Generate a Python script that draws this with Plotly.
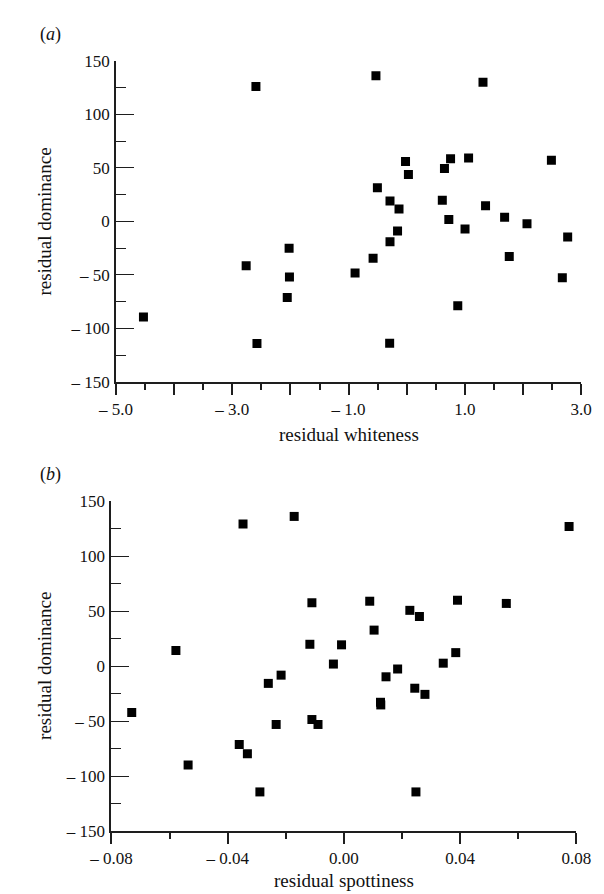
import plotly.graph_objects as go

W, H = 604, 894

# Panel (a): residual whiteness vs residual dominance
whiteness = [-2.594, -0.529, 1.313, -0.02, 0.755, 1.065, 2.49, 0.65, 0.03, -0.504,
             -0.287, -0.132, 0.613, 1.357, 0.725, 1.685, 2.07, -0.157, 1.004, 2.77,
             -0.287, -2.023, -0.578, 1.765, -2.762, -0.888, -2.017, 2.678, -2.055,
             0.879, -4.529, -2.576, -0.293]
dominance_a = [126.1, 136.2, 130.2, 56.1, 58.6, 59.2, 57.3, 49.4, 43.9, 31.4,
               19.2, 11.5, 19.7, 14.6, 1.7, 3.9, -2.3, -9.0, -7.2, -14.5,
               -19.1, -25.2, -34.4, -32.8, -41.4, -48.2, -52.1, -52.7, -71.1,
               -79.0, -89.4, -114.2, -113.9]

# Panel (b): residual spottiness vs residual dominance
spottiness = [-0.0347, -0.0171, 0.0775, -0.0110, 0.0089, 0.0391, 0.0559, 0.0227,
              0.0260, 0.0104, -0.0117, -0.0008, -0.0578, 0.0385, -0.0036, 0.0342,
              0.0185, -0.0216, 0.0145, -0.0260, 0.0244, 0.0279, 0.0126, 0.0127,
              -0.0730, -0.0110, -0.0089, -0.0233, -0.0360, -0.0332, -0.0536,
              -0.0289, 0.0248]
dominance_b = [129.6, 136.4, 127.2, 57.8, 59.2, 60.1, 57.2, 50.9, 45.3, 32.9,
               20.0, 19.5, 14.4, 12.4, 2.0, 2.8, -2.5, -8.1, -9.6, -15.6,
               -20.0, -25.6, -32.8, -35.2, -42.0, -48.5, -53.0, -53.0, -71.3,
               -79.7, -90.0, -114.4, -114.4]

# Tick configuration
y_tickvals = [-150, -100, -50, 0, 50, 100, 150]
y_ticktext = ["\u2013 150", "\u2013 100", "\u2013 50", "0", "50", "100", "150"]
y_minor = [-125, -75, -25, 25, 75, 125]

xa_tickvals = [-5, -4, -3, -2, -1, 0, 1, 2, 3]
xa_ticktext = ["\u2013 5.0", "", "\u2013 3.0", "", "\u2013 1.0", "", "1.0", "", "3.0"]
xa_minor = [-4.5, -3.5, -2.5, -1.5, -0.5, 0.5, 1.5, 2.5]

xb_tickvals = [-0.08, -0.04, 0.0, 0.04, 0.08]
xb_ticktext = ["\u2013 0.08", "\u2013 0.04", "0.00", "0.04", "0.08"]
xb_minor = [-0.06, -0.02, 0.02, 0.06]

FONT = "Liberation Serif, Times New Roman, serif"
AX = "#1e1e1e"


def px_x(p):
    return p / W


def px_y(p):
    return 1 - p / H


fig = go.Figure()
fig.add_trace(go.Scatter(x=whiteness, y=dominance_a, mode="markers",
                         marker=dict(symbol="square", size=9, color="black"),
                         xaxis="x", yaxis="y", showlegend=False))
fig.add_trace(go.Scatter(x=spottiness, y=dominance_b, mode="markers",
                         marker=dict(symbol="square", size=9, color="black"),
                         xaxis="x2", yaxis="y2", showlegend=False))

common_x = dict(showgrid=False, zeroline=False, showline=True, linecolor=AX, linewidth=1.5,
                ticks="outside", ticklen=11, tickwidth=1.5, tickcolor=AX,
                tickfont=dict(family=FONT, size=17, color="#111"), tickmode="array")
common_y = dict(showgrid=False, zeroline=False, showline=True, linecolor=AX, linewidth=2,
                ticks="inside", ticklen=18, tickwidth=1.3, tickcolor=AX,
                tickfont=dict(family=FONT, size=17, color="#111"), tickmode="array",
                tickvals=y_tickvals, ticktext=y_ticktext, range=[-150, 150],
                ticklabelstandoff=1,
                minor=dict(tickmode="array", tickvals=y_minor, ticks="inside",
                           ticklen=10, tickwidth=1.3, tickcolor=AX))

fig.update_layout(
    width=W, height=H, plot_bgcolor="white", paper_bgcolor="white",
    margin=dict(l=0, r=0, t=0, b=0),
    xaxis=dict(common_x, domain=[px_x(91.7), px_x(587)], range=[-5, 3], anchor="y",
               tickvals=xa_tickvals, ticktext=xa_ticktext,
               minor=dict(tickmode="array", tickvals=xa_minor, ticks="outside",
                          ticklen=6, tickwidth=1.5, tickcolor=AX)),
    yaxis=dict(common_y, domain=[px_y(372.7), px_y(45)], anchor="x"),
    xaxis2=dict(common_x, domain=[px_x(86.7), px_x(582)], range=[-0.08, 0.08], anchor="y2",
                tickvals=xb_tickvals, ticktext=xb_ticktext,
                minor=dict(tickmode="array", tickvals=xb_minor, ticks="outside",
                           ticklen=6, tickwidth=1.5, tickcolor=AX)),
    yaxis2=dict(common_y, domain=[px_y(831.7), px_y(495)], anchor="x2"),
)

ann_font = dict(family=FONT, size=19, color="#111")
fig.add_annotation(text="residual whiteness", x=px_x(340), y=px_y(427), xref="paper", yref="paper",
                   showarrow=False, font=ann_font, xanchor="center", yanchor="middle")
fig.add_annotation(text="residual spottiness", x=px_x(335), y=px_y(882), xref="paper", yref="paper",
                   showarrow=False, font=ann_font, xanchor="center", yanchor="middle")
fig.add_annotation(text="residual dominance", x=px_x(16), y=px_y(209), xref="paper", yref="paper",
                   showarrow=False, font=ann_font, textangle=-90, xanchor="center", yanchor="middle")
fig.add_annotation(text="residual dominance", x=px_x(16), y=px_y(663), xref="paper", yref="paper",
                   showarrow=False, font=ann_font, textangle=-90, xanchor="center", yanchor="middle")
fig.add_annotation(text="(<i>a</i>)", x=px_x(8), y=px_y(18), xref="paper", yref="paper",
                   showarrow=False, font=dict(family=FONT, size=18, color="#111"),
                   xanchor="left", yanchor="middle")
fig.add_annotation(text="(<i>b</i>)", x=px_x(8), y=px_y(467), xref="paper", yref="paper",
                   showarrow=False, font=dict(family=FONT, size=18, color="#111"),
                   xanchor="left", yanchor="middle")

fig.write_html("out.html")
